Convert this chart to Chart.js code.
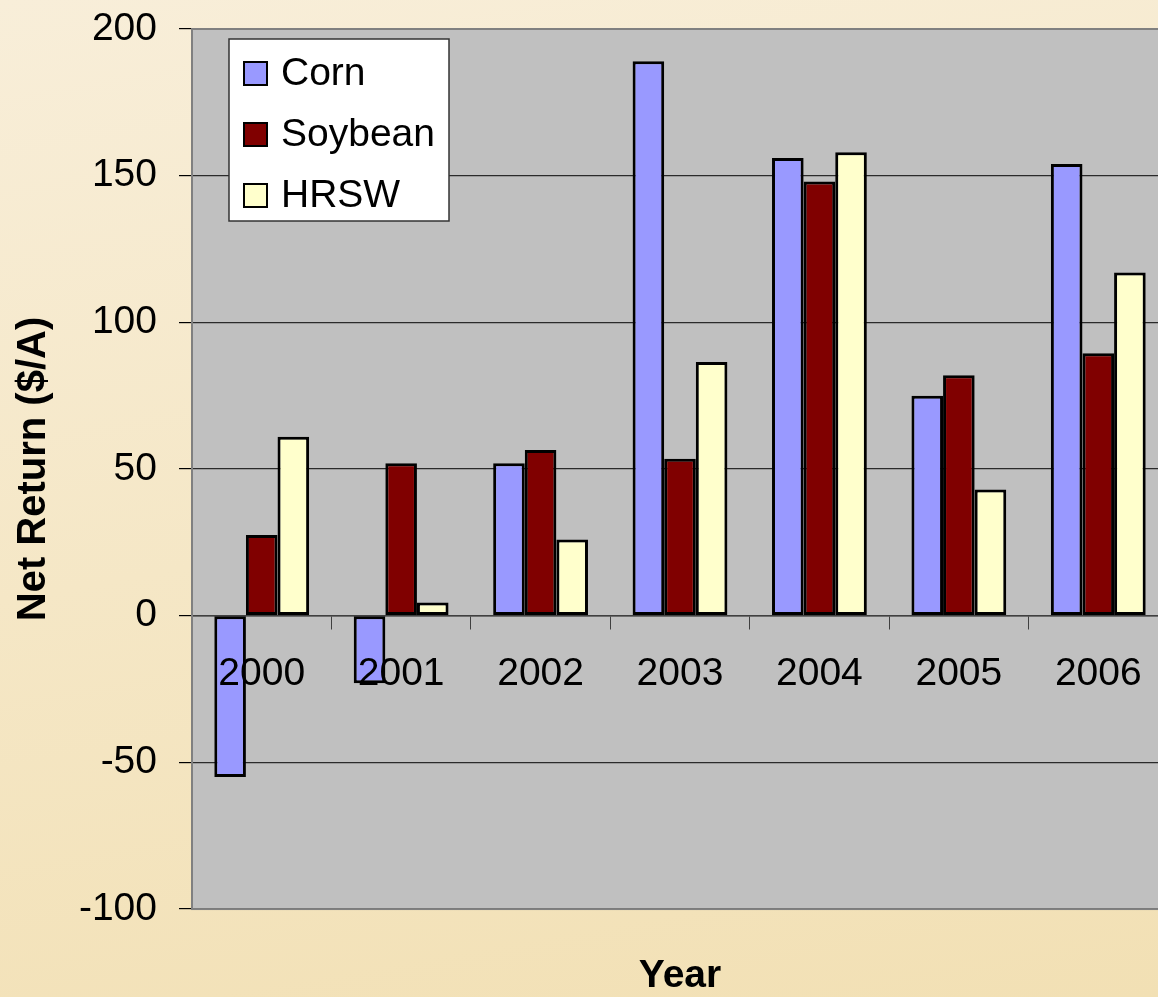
<!DOCTYPE html>
<html lang="en">
<head>
  <meta charset="UTF-8">
  <title>Net Return by Crop</title>
  <script src="https://cdn.jsdelivr.net/npm/chart.js"></script>
  <style>
    html, body { margin: 0; padding: 0; overflow: hidden; }
    body {
      width: 1158px; height: 997px;
      background: linear-gradient(170deg, #f8eed9 0%, #f5e7c6 50%, #f2e0b4 100%);
    }
  </style>
</head>
<body>
  <canvas id="returnChart" width="1170" height="997"></canvas>

  <script>
    const years = ['2000', '2001', '2002', '2003', '2004', '2005', '2006'];
    const corn = [-55, -23, 52, 189, 156, 75, 154];
    const soybean = [27.5, 52, 56.5, 53.5, 148, 82, 89.5];
    const hrsw = [61, 4.5, 26, 86.5, 158, 43, 117];

    const FONT = "'Liberation Sans', Arial, sans-serif";

    // grey plot area with a grey frame, like the spreadsheet original
    const plotArea = {
      id: 'plotArea',
      beforeDraw(chart) {
        const a = chart.chartArea, c = chart.ctx;
        c.save();
        c.fillStyle = '#c0c0c0';
        c.fillRect(a.left, a.top, a.right - a.left, a.bottom - a.top);
        c.restore();
      },
      afterDraw(chart) {
        const a = chart.chartArea, c = chart.ctx;
        c.save();
        c.strokeStyle = '#808080';
        c.lineWidth = 2;
        c.strokeRect(a.left, a.top, a.right - a.left, a.bottom - a.top);
        c.restore();
      }
    };

    // legend box drawn inside the plot area
    const boxLegend = {
      id: 'boxLegend',
      afterDraw(chart) {
        const a = chart.chartArea, c = chart.ctx;
        const x = a.left + 37, y = a.top + 10, w = 220, h = 182;
        c.save();
        c.fillStyle = '#ffffff';
        c.fillRect(x, y, w, h);
        c.strokeStyle = '#333333';
        c.lineWidth = 1.5;
        c.strokeRect(x, y, w, h);
        c.font = '39px ' + FONT;
        c.textBaseline = 'middle';
        chart.data.datasets.forEach((ds, i) => {
          const cy = y + 34 + i * 61;
          c.fillStyle = ds.backgroundColor;
          c.fillRect(x + 15, cy - 11, 23, 23);
          c.strokeStyle = '#000';
          c.lineWidth = 2;
          c.strokeRect(x + 15, cy - 11, 23, 23);
          c.fillStyle = '#000';
          c.fillText(ds.label, x + 52, cy + 1);
        });
        c.restore();
      }
    };

    new Chart(document.getElementById('returnChart'), {
      type: 'bar',
      data: {
        labels: years,
        datasets: [
          { label: 'Corn', data: corn, backgroundColor: '#9999ff' },
          { label: 'Soybean', data: soybean, backgroundColor: '#800000' },
          { label: 'HRSW', data: hrsw, backgroundColor: '#ffffcc' }
        ]
      },
      options: {
        responsive: false,
        animation: false,
        layout: { padding: { top: 29, right: 2, left: 0, bottom: 0 } },
        datasets: {
          bar: {
            borderColor: '#000',
            borderWidth: 3,
            borderSkipped: false,
            categoryPercentage: 0.68,
            barPercentage: 1.0
          }
        },
        plugins: {
          legend: { display: false },
          tooltip: { enabled: false },
          title: {
            display: true,
            position: 'bottom',
            fullSize: false,
            text: 'Year',
            color: '#000',
            font: { family: FONT, size: 39, weight: 'bold', lineHeight: 1.05 },
            padding: { top: 47, bottom: 0 }
          }
        },
        scales: {
          x: {
            position: { y: 0 },
            offset: true,
            grid: {
              offset: true,
              drawOnChartArea: false,
              drawTicks: true,
              tickLength: 13,
              tickColor: '#404040'
            },
            border: { display: true, color: '#404040', width: 1.5 },
            ticks: {
              z: 1,
              color: '#000',
              padding: 22,
              maxRotation: 0,
              font: { family: FONT, size: 39 }
            }
          },
          y: {
            min: -100,
            max: 200,
            afterFit(scale) {
              scale.width = 192;
              scale.paddingTop = 0;
              scale.paddingBottom = 0;
            },
            ticks: {
              stepSize: 50,
              color: '#000',
              padding: 22,
              font: { family: FONT, size: 39 }
            },
            grid: {
              color: '#2a2a2a',
              lineWidth: 1.2,
              tickLength: 13,
              tickColor: '#000'
            },
            border: { display: true, color: '#808080', width: 2 },
            title: {
              display: true,
              text: 'Net Return ($/A)',
              color: '#000',
              font: { family: FONT, size: 40, weight: 'bold' },
              padding: { top: 10, bottom: 0 }
            }
          }
        }
      },
      plugins: [plotArea, boxLegend]
    });
  </script>
</body>
</html>
